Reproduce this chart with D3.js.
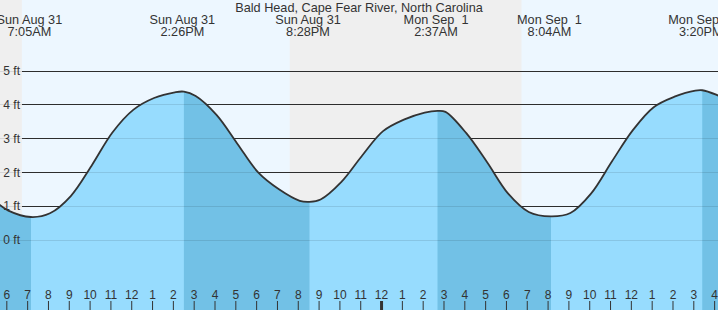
<!DOCTYPE html>
<meta charset="utf-8">
<style>
body { margin: 0; background: #fff; }
svg { display: block; font-family: "Liberation Sans", Arial, sans-serif; }
text { fill: #333; white-space: pre; }
.tick line { stroke: #333; }
</style>
<body>
<script src="https://d3js.org/d3.v7.min.js"></script>
<script>

var title = "Bald Head, Cape Fear River, North Carolina";

// high / low tide events (hours after Sun Aug 31 00:00)
var eventHours = [7 + 5/60, 14 + 26/60, 20 + 28/60, 26 + 37/60, 32 + 4/60, 39 + 20/60];
var eventDays = ["Sun Aug 31", "Sun Aug 31", "Sun Aug 31", "Mon Sep  1", "Mon Sep  1", "Mon Sep  1"];
var eventTimes = ["7:05AM", "2:26PM", "8:28PM", "2:37AM", "8:04AM", "3:20PM"];

// sunrise, sunset, sunrise
var sunHours = [6 + 39/60, 19 + 31/60, 30 + 39/60];

// water level
var levelHours = [5.5, 6, 7 + 5/60, 8, 9, 10, 11, 12, 13, 14, 14 + 26/60, 15, 16, 17, 18, 19, 20, 20 + 28/60,
                  21, 22, 23, 24, 25, 26, 26 + 37/60, 27, 28, 29, 30, 31, 32 + 4/60, 33, 34, 35, 36, 37, 38,
                  39, 39 + 20/60, 40, 40.5];
var levelFeet = [1.08, 0.87, 0.68, 0.79, 1.30, 2.20, 3.18, 3.85, 4.20, 4.37, 4.39, 4.26, 3.70, 2.85, 2.00, 1.50, 1.16, 1.13,
                 1.20, 1.72, 2.50, 3.22, 3.56, 3.77, 3.82, 3.79, 3.16, 2.30, 1.38, 0.83, 0.70, 0.80, 1.38, 2.33, 3.25, 3.93, 4.24,
                 4.42, 4.43, 4.30, 4.15];

var feetTicks = [0, 1, 2, 3, 4, 5];

var width = 718, height = 310;
var startHour = 5.6, endHour = 40.09;

var base = new Date(2025, 7, 31);
function toDate(h) { return new Date(base.getTime() + h * 3600000); }

var x = d3.scaleTime()
    .domain([toDate(startHour), toDate(endHour)])
    .range([0, width]);

var y = d3.scaleLinear()
    .domain([0, 5])
    .range([240, 71]);

var data = levelHours.map(function(h, i) { return {t: toDate(h), v: levelFeet[i]}; });

var svg = d3.select("body").append("svg")
    .attr("width", width)
    .attr("height", height);

// day sky
svg.append("rect")
    .attr("width", width)
    .attr("height", height)
    .attr("fill", "#edf7ff");

// night bands
var nights = [[startHour, sunHours[0]], [sunHours[1], sunHours[2]]];
svg.selectAll(".night")
    .data(nights)
  .enter().append("rect")
    .attr("class", "night")
    .attr("x", function(d) { return x(toDate(d[0])); })
    .attr("width", function(d) { return x(toDate(d[1])) - x(toDate(d[0])); })
    .attr("height", height)
    .attr("fill", "#efefef");

// grid lines over the sky
svg.selectAll(".grid")
    .data(feetTicks.slice(1))
  .enter().append("line")
    .attr("class", "grid")
    .attr("x1", 22).attr("x2", width)
    .attr("y1", function(d) { return y(d); })
    .attr("y2", function(d) { return y(d); })
    .attr("stroke", "#333")
    .attr("stroke-width", 1)
    .attr("shape-rendering", "crispEdges");

var area = d3.area()
    .curve(d3.curveCatmullRom.alpha(0.5))
    .x(function(d) { return x(d.t); })
    .y0(height)
    .y1(function(d) { return y(d.v); });

var line = d3.line()
    .curve(d3.curveCatmullRom.alpha(0.5))
    .x(function(d) { return x(d.t); })
    .y(function(d) { return y(d.v); });

svg.append("path")
    .datum(data)
    .attr("d", area)
    .attr("fill", "#97dcfe");

// falling tide segments are darker
var bounds = [startHour].concat(eventHours, [endHour]);
var falling = [];
for (var i = 0; i < bounds.length - 1; i += 2) falling.push([bounds[i], bounds[i + 1]]);

var defs = svg.append("defs");
falling.forEach(function(seg, i) {
  defs.append("clipPath").attr("id", "fall" + i)
    .append("rect")
      .attr("x", x(toDate(seg[0])))
      .attr("width", x(toDate(seg[1])) - x(toDate(seg[0])))
      .attr("height", height);
  svg.append("path")
      .datum(data)
      .attr("d", area)
      .attr("clip-path", "url(#fall" + i + ")")
      .attr("fill", "#72c1e6");
});

// faint grid lines through the water
svg.selectAll(".gridw")
    .data(feetTicks)
  .enter().append("line")
    .attr("class", "gridw")
    .attr("x1", 0).attr("x2", width)
    .attr("y1", function(d) { return y(d); })
    .attr("y2", function(d) { return y(d); })
    .attr("stroke", "#000")
    .attr("stroke-opacity", 0.1)
    .attr("shape-rendering", "crispEdges");

svg.append("path")
    .datum(data)
    .attr("d", line)
    .attr("fill", "none")
    .attr("stroke", "#333")
    .attr("stroke-width", 1.8);

// feet labels
svg.selectAll(".ylab")
    .data(feetTicks)
  .enter().append("text")
    .attr("class", "ylab")
    .attr("x", 20)
    .attr("y", function(d) { return y(d); })
    .attr("dy", "0.35em")
    .attr("text-anchor", "end")
    .style("font-size", "12px")
    .text(function(d) { return d + " ft"; });

// hour axis
var xAxis = d3.axisTop(x)
    .ticks(d3.timeHour.every(1))
    .tickFormat(d3.timeFormat("%-I"))
    .tickSize(9)
    .tickPadding(2);

var gx = svg.append("g")
    .attr("transform", "translate(-2," + height + ")")
    .call(xAxis);
gx.select(".domain").remove();
gx.selectAll("text").style("font-size", "12px").attr("fill", "#333");
gx.selectAll(".tick line")
    .filter(function(d) { return d.getHours() === 0; })
    .attr("stroke-width", 3);

// title and event labels
svg.append("text")
    .attr("x", width / 2)
    .attr("y", 12)
    .attr("text-anchor", "middle")
    .style("font-size", "12.7px")
    .text(title);

var ev = svg.selectAll(".ev")
    .data(eventHours)
  .enter().append("text")
    .attr("class", "ev")
    .attr("text-anchor", "middle")
    .style("font-size", "12.7px");
ev.append("tspan")
    .attr("x", function(d) { return x(toDate(d)) - 1.5; })
    .attr("y", 24)
    .text(function(d, i) { return eventDays[i]; });
ev.append("tspan")
    .attr("x", function(d) { return x(toDate(d)) - 1.5; })
    .attr("y", 36)
    .text(function(d, i) { return eventTimes[i]; });

</script>
